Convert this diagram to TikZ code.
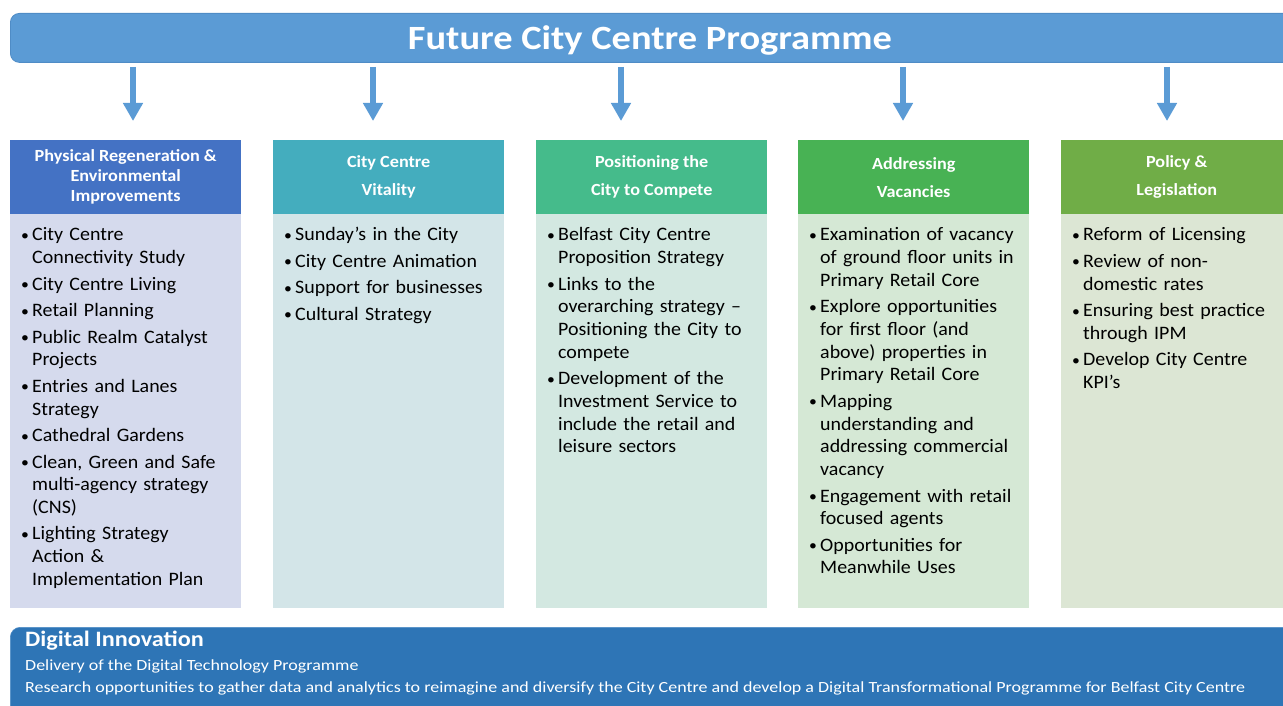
\documentclass[tikz,border=0pt]{standalone}
\usepackage{fontspec}
\setmainfont{Carlito}
\newfontfamily\titlef{Carlito}[FakeStretch=1.13]
\newfontfamily\hdrf{Carlito}[FakeStretch=1.07]
\newfontfamily\bodyf{Carlito}[FakeStretch=1.05]
\newfontfamily\botf{Carlito}[FakeStretch=1.16]
\newfontfamily\dtf{Carlito}[FakeStretch=1.1]
\usetikzlibrary{arrows.meta}
\definecolor{titlec}{HTML}{5B9BD5}
\definecolor{titleb}{HTML}{4F8CC6}
\definecolor{botc}{HTML}{2E75B6}
\definecolor{hA}{HTML}{4472C4}
\definecolor{hB}{HTML}{44ADBE}
\definecolor{hC}{HTML}{45BB8B}
\definecolor{hD}{HTML}{48B254}
\definecolor{hE}{HTML}{70AD47}
\definecolor{bA}{HTML}{D5DAED}
\definecolor{bB}{HTML}{D3E5E8}
\definecolor{bC}{HTML}{D3E8E1}
\definecolor{bD}{HTML}{D5E8D5}
\definecolor{bE}{HTML}{DCE6D4}
\newcommand{\nl}{\hfil\break}
\newcommand{\itm}[1]{\par\hangindent=11pt\hangafter=1\noindent\makebox[11pt][l]{\raisebox{0.5pt}{\fontsize{15}{15}\selectfont\textbullet}}#1\par\vspace{3.8pt}}
\tikzset{
  hdr/.style={minimum width=231pt, minimum height=74pt, inner sep=0pt, text=white, align=center, font=\hdrf\fontsize{17}{20}\selectfont\bfseries, anchor=north west},
  hdrw/.style={hdr, font=\hdrf\fontsize{17}{28}\selectfont\bfseries},
  bodybox/.style={minimum width=231pt, minimum height=394pt, inner sep=0pt, anchor=north west},
  bodytxt/.style={anchor=north west, inner sep=0pt, text width=222pt, font=\bodyf\fontsize{19}{22.7}\selectfont, align=left},
  arr/.style={draw=titlec, line width=6pt, -{Triangle[width=19pt,length=18pt]}, shorten <=4pt, shorten >=19pt},
}
\begin{document}
\begin{tikzpicture}[x=1pt,y=-1pt]
\useasboundingbox (0,0) rectangle (1283,706);
% title bar
\node[draw=titleb, line width=0.8pt, fill=titlec, rounded corners=9pt, minimum width=1290pt, minimum height=49pt, anchor=north west, inner sep=0pt] (title) at (10,13) {};
\node[text=white, font=\titlef\fontsize{34}{40}\selectfont\bfseries, inner sep=0pt] (titletxt) at (650,40) {Future City Centre Programme};
% headers
\node[hdr, fill=hA] (h1) at (10,140) {Physical Regeneration \&\\Environmental\\Improvements};
\node[hdrw, fill=hB] (h2) at (273,140) {City Centre\\Vitality};
\node[hdrw, fill=hC] (h3) at (536,140) {Positioning the\\City to Compete};
\node[hdrw, fill=hD] (h4) at (798,140) {Addressing\\Vacancies};
\node[hdrw, fill=hE] (h5) at (1061,140) {Policy \&\\Legislation};
% bodies
\node[bodybox, fill=bA] (b1) at (10,214) {};
\node[bodybox, fill=bB] (b2) at (273,214) {};
\node[bodybox, fill=bC] (b3) at (536,214) {};
\node[bodybox, fill=bD] (b4) at (798,214) {};
\node[bodybox, fill=bE] (b5) at (1061,214) {};
% arrows
\coordinate (a1) at (133,0);
\coordinate (a2) at (373,0);
\coordinate (a3) at (621,0);
\coordinate (a4) at (903,0);
\coordinate (a5) at (1167,0);
\draw[arr] (title.south -| a1) -- (h1.north -| a1);
\draw[arr] (title.south -| a2) -- (h2.north -| a2);
\draw[arr] (title.south -| a3) -- (h3.north -| a3);
\draw[arr] (title.south -| a4) -- (h4.north -| a4);
\draw[arr] (title.south -| a5) -- (h5.north -| a5);
% body texts
\node[bodytxt] (t1) at (21,218) {%
\itm{City Centre\nl Connectivity Study}
\itm{City Centre Living}
\itm{Retail Planning}
\itm{Public Realm Catalyst\nl Projects}
\itm{Entries and Lanes\nl Strategy}
\itm{Cathedral Gardens}
\itm{Clean, Green and Safe\nl multi-agency strategy\nl (CNS)}
\itm{Lighting Strategy\nl Action \&\nl Implementation Plan}};
\node[bodytxt] (t2) at (284,218) {%
\itm{Sunday’s in the City}
\itm{City Centre Animation}
\itm{Support for businesses}
\itm{Cultural Strategy}};
\node[bodytxt] (t3) at (547,218) {%
\itm{Belfast City Centre\nl Proposition Strategy}
\itm{Links to the\nl overarching strategy –\nl Positioning the City to\nl compete}
\itm{Development of the\nl Investment Service to\nl include the retail and\nl leisure sectors}};
\node[bodytxt] (t4) at (809,218) {%
\itm{Examination of vacancy\nl of ground floor units in\nl Primary Retail Core}
\itm{Explore opportunities\nl for first floor (and\nl above) properties in\nl Primary Retail Core}
\itm{Mapping\nl understanding and\nl addressing commercial\nl vacancy}
\itm{Engagement with retail\nl focused agents}
\itm{Opportunities for\nl Meanwhile Uses}};
\node[bodytxt] (t5) at (1072,218) {%
\itm{Reform of Licensing}
\itm{Review of non-\nl domestic rates}
\itm{Ensuring best practice\nl through IPM}
\itm{Develop City Centre\nl KPI’s}};
% bottom bar
\node[draw=titleb, line width=0.6pt, fill=botc, rounded corners=10pt, minimum width=1290pt, minimum height=95pt, anchor=north west, inner sep=0pt] (digital) at (10,627) {};
\node[anchor=west, text=white, font=\dtf\fontsize{22}{26}\selectfont\bfseries, inner sep=0pt] (dtitle) at (25,641) {Digital Innovation};
\node[anchor=west, text=white, font=\botf\fontsize{15.5}{18}\selectfont, inner sep=0pt] (dl1) at (25,666) {Delivery of the Digital Technology Programme};
\node[anchor=west, text=white, font=\botf\fontsize{15.5}{18}\selectfont, inner sep=0pt] (dl2) at (25,688) {Research opportunities to gather data and analytics to reimagine and diversify the City Centre and develop a Digital Transformational Programme for Belfast City Centre};
\end{tikzpicture}
\end{document}
